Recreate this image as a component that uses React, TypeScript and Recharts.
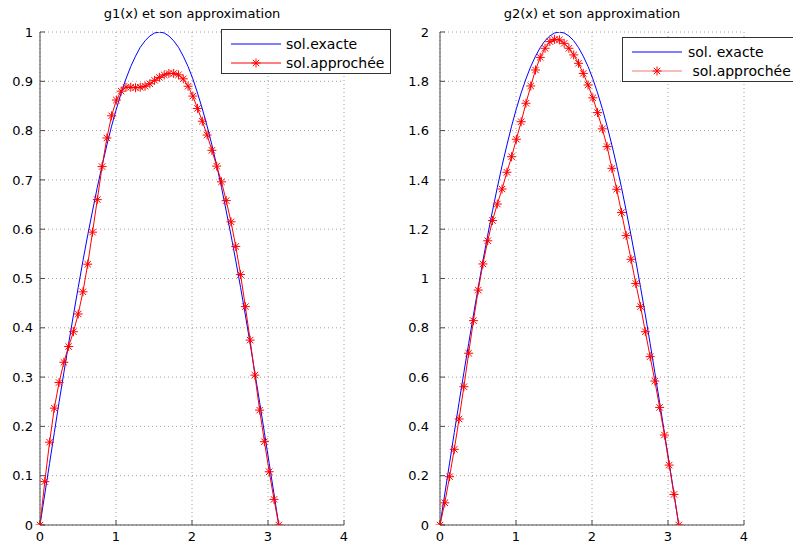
import { LineChart, Line, XAxis, YAxis, CartesianGrid, Legend } from "recharts";

// sample abscissae on [0, pi]
const xs = [
  0.0, 0.063, 0.126, 0.188, 0.251, 0.314, 0.377, 0.44, 0.503, 0.565, 0.628,
  0.691, 0.754, 0.817, 0.88, 0.942, 1.005, 1.068, 1.131, 1.194, 1.257, 1.319,
  1.382, 1.445, 1.508, 1.571, 1.634, 1.696, 1.759, 1.822, 1.885, 1.948, 2.011,
  2.073, 2.136, 2.199, 2.262, 2.325, 2.388, 2.45, 2.513, 2.576, 2.639, 2.702,
  2.765, 2.827, 2.89, 2.953, 3.016, 3.079, 3.142,
];

const g1Exact = [
  0, 0.063, 0.125, 0.187, 0.249, 0.309, 0.368, 0.426, 0.482, 0.536, 0.588,
  0.637, 0.685, 0.729, 0.771, 0.809, 0.844, 0.876, 0.905, 0.93, 0.951, 0.969,
  0.982, 0.992, 0.998, 1.0, 0.998, 0.992, 0.982, 0.969, 0.951, 0.93, 0.905,
  0.876, 0.844, 0.809, 0.771, 0.729, 0.685, 0.637, 0.588, 0.536, 0.482, 0.426,
  0.368, 0.309, 0.249, 0.187, 0.125, 0.063, 0,
];

const g1Approx = [
  0, 0.088, 0.168, 0.237, 0.289, 0.33, 0.362, 0.392, 0.428, 0.473, 0.529,
  0.594, 0.66, 0.727, 0.785, 0.83, 0.862, 0.88, 0.888, 0.888, 0.887, 0.888,
  0.89, 0.895, 0.902, 0.908, 0.913, 0.916, 0.916, 0.913, 0.905, 0.89, 0.87,
  0.845, 0.819, 0.791, 0.76, 0.728, 0.696, 0.658, 0.615, 0.565, 0.508, 0.443,
  0.375, 0.304, 0.233, 0.169, 0.108, 0.052, 0,
];

const g2Exact = [
  0, 0.126, 0.251, 0.375, 0.497, 0.618, 0.736, 0.852, 0.964, 1.072, 1.176,
  1.275, 1.369, 1.458, 1.541, 1.618, 1.689, 1.753, 1.81, 1.86, 1.902, 1.937,
  1.965, 1.984, 1.996, 2.0, 1.996, 1.984, 1.965, 1.937, 1.902, 1.86, 1.81,
  1.753, 1.689, 1.618, 1.541, 1.458, 1.369, 1.275, 1.176, 1.072, 0.964, 0.852,
  0.736, 0.618, 0.497, 0.375, 0.251, 0.126, 0,
];

const g2Approx = [
  0, 0.09, 0.196, 0.307, 0.43, 0.561, 0.697, 0.829, 0.953, 1.059, 1.153,
  1.235, 1.302, 1.363, 1.431, 1.494, 1.565, 1.636, 1.711, 1.781, 1.846, 1.897,
  1.934, 1.961, 1.97, 1.968, 1.954, 1.934, 1.907, 1.873, 1.832, 1.785, 1.733,
  1.673, 1.607, 1.535, 1.447, 1.362, 1.268, 1.174, 1.078, 0.98, 0.886, 0.784,
  0.683, 0.584, 0.477, 0.365, 0.243, 0.124, 0,
];

const xTicks = [0, 1, 2, 3, 4];
const g1Ticks = [0, 0.1, 0.2, 0.3, 0.4, 0.5, 0.6, 0.7, 0.8, 0.9, 1];
const g2Ticks = [0, 0.2, 0.4, 0.6, 0.8, 1, 1.2, 1.4, 1.6, 1.8, 2];

const g1Labels = ["sol.exacte", "sol.approchée"];
const g2Labels = ["sol. exacte", " sol.approchée"];

const FONT = "'DejaVu Sans', sans-serif";
const AXIS = "#4a4a4a";
const GRID = "#a0a0a0";
const BLUE = "#0000ff";
const RED = "#ff0000";

type Row = { x: number; exact: number; approx: number };

const buildRows = (exact: number[], approx: number[]): Row[] =>
  xs.map((x, i) => ({ x, exact: exact[i], approx: approx[i] }));

// matlab-style '*' marker
function Star(props: any) {
  const { cx, cy, index } = props;
  if (cx == null || cy == null) return null;
  const r = 4.5;
  const d = 3.2;
  return (
    <g key={`star-${index}`} stroke={RED} strokeWidth={1}>
      <line x1={cx - r} y1={cy} x2={cx + r} y2={cy} />
      <line x1={cx} y1={cy - r} x2={cx} y2={cy + r} />
      <line x1={cx - d} y1={cy - d} x2={cx + d} y2={cy + d} />
      <line x1={cx - d} y1={cy + d} x2={cx + d} y2={cy - d} />
    </g>
  );
}

function LegendBox({
  labels,
  width,
  approxLine,
  textLeft,
}: {
  labels: string[];
  width: number;
  approxLine: string;
  textLeft: number;
}) {
  const row = (y: number, color: string, star: boolean, text: string) => (
    <div style={{ position: "absolute", left: 0, top: y - 10, height: 20, width: "100%" }}>
      <svg width={56} height={20} style={{ position: "absolute", left: 8, top: 0 }}>
        <line x1={1} y1={10} x2={51} y2={10} stroke={color} strokeWidth={1} />
        {star && (
          <g stroke={RED} strokeWidth={1}>
            <line x1={21.5} y1={10} x2={30.5} y2={10} />
            <line x1={26} y1={5.5} x2={26} y2={14.5} />
            <line x1={22.8} y1={6.8} x2={29.2} y2={13.2} />
            <line x1={22.8} y1={13.2} x2={29.2} y2={6.8} />
          </g>
        )}
      </svg>
      <span
        style={{
          position: "absolute",
          left: textLeft,
          top: 1,
          fontSize: 14,
          lineHeight: "18px",
          whiteSpace: "pre",
          color: "#000",
        }}
      >
        {text}
      </span>
    </div>
  );
  return (
    <div
      style={{
        position: "relative",
        width,
        height: 45,
        boxSizing: "border-box",
        border: "1px solid #333",
        background: "#fff",
        fontFamily: FONT,
      }}
    >
      {row(14, BLUE, false, labels[0])}
      {row(33, approxLine, true, labels[1])}
    </div>
  );
}

interface PanelProps {
  left: number;
  width: number;
  yAxisWidth: number;
  yMargin: number;
  rightMargin: number;
  title: string;
  rows: Row[];
  yTicks: number[];
  yMax: number;
  labels: string[];
  legendLeft: number;
  legendTop: number;
  legendWidth: number;
  legendLine: string;
  legendTextLeft: number;
}

function Panel(p: PanelProps) {
  const plotLeft = p.yAxisWidth;
  const plotWidth = p.width - p.yAxisWidth - p.rightMargin;
  const tick = { fill: "#000", fontSize: 13, fontFamily: FONT };
  return (
    <div style={{ position: "absolute", left: p.left, top: 0, width: p.width, height: 547 }}>
      <div
        style={{
          position: "absolute",
          left: plotLeft,
          width: plotWidth,
          top: 6,
          textAlign: "center",
          fontFamily: FONT,
          fontSize: 13,
          lineHeight: "16px",
          color: "#000",
        }}
      >
        {p.title}
      </div>
      <LineChart
        width={p.width}
        height={547}
        data={p.rows}
        margin={{ top: 32, right: p.rightMargin, left: 0, bottom: 0 }}
      >
        <CartesianGrid stroke={GRID} strokeDasharray="1 3" />
        <XAxis
          dataKey="x"
          type="number"
          domain={[0, 4]}
          ticks={xTicks}
          height={22}
          stroke={AXIS}
          tickSize={-5}
          tickMargin={12}
          tick={tick}
          interval={0}
        />
        <XAxis
          xAxisId="top"
          orientation="top"
          dataKey="x"
          type="number"
          domain={[0, 4]}
          ticks={xTicks}
          height={0}
          stroke={AXIS}
          tickSize={-5}
          tick={false}
        />
        <YAxis
          type="number"
          domain={[0, p.yMax]}
          ticks={p.yTicks}
          width={p.yAxisWidth}
          stroke={AXIS}
          tickSize={-5}
          tickMargin={p.yMargin}
          tick={tick}
          interval={0}
          allowDataOverflow
        />
        <YAxis
          yAxisId="right"
          orientation="right"
          type="number"
          domain={[0, p.yMax]}
          ticks={p.yTicks}
          width={0}
          stroke={AXIS}
          tickSize={-5}
          tick={false}
        />
        <Legend
          layout="vertical"
          align="center"
          verticalAlign="middle"
          wrapperStyle={{ left: p.legendLeft, top: p.legendTop, width: p.legendWidth }}
          content={() => (
            <LegendBox
              labels={p.labels}
              width={p.legendWidth}
              approxLine={p.legendLine}
              textLeft={p.legendTextLeft}
            />
          )}
        />
        <Line
          type="linear"
          dataKey="exact"
          name={p.labels[0]}
          stroke={BLUE}
          strokeWidth={1}
          dot={false}
          activeDot={false}
          isAnimationActive={false}
        />
        <Line
          type="linear"
          dataKey="approx"
          name={p.labels[1]}
          stroke={RED}
          strokeWidth={1}
          dot={Star}
          activeDot={false}
          isAnimationActive={false}
        />
      </LineChart>
    </div>
  );
}

export default function App() {
  return (
    <div
      style={{
        position: "absolute",
        left: 0,
        top: 0,
        width: 793,
        height: 547,
        overflow: "hidden",
        background: "#fff",
      }}
    >
      <Panel
        left={0}
        width={396}
        yAxisWidth={40}
        yMargin={12}
        rightMargin={52}
        title="g1(x) et son approximation"
        rows={buildRows(g1Exact, g1Approx)}
        yTicks={g1Ticks}
        yMax={1}
        labels={g1Labels}
        legendLeft={221}
        legendTop={29}
        legendWidth={170}
        legendLine={RED}
        legendTextLeft={64}
      />
      <Panel
        left={396}
        width={397}
        yAxisWidth={44}
        yMargin={16}
        rightMargin={49}
        title="g2(x) et son approximation"
        rows={buildRows(g2Exact, g2Approx)}
        yTicks={g2Ticks}
        yMax={2}
        labels={g2Labels}
        legendLeft={226}
        legendTop={37}
        legendWidth={178}
        legendLine="#ee7a7a"
        legendTextLeft={65}
      />
    </div>
  );
}
